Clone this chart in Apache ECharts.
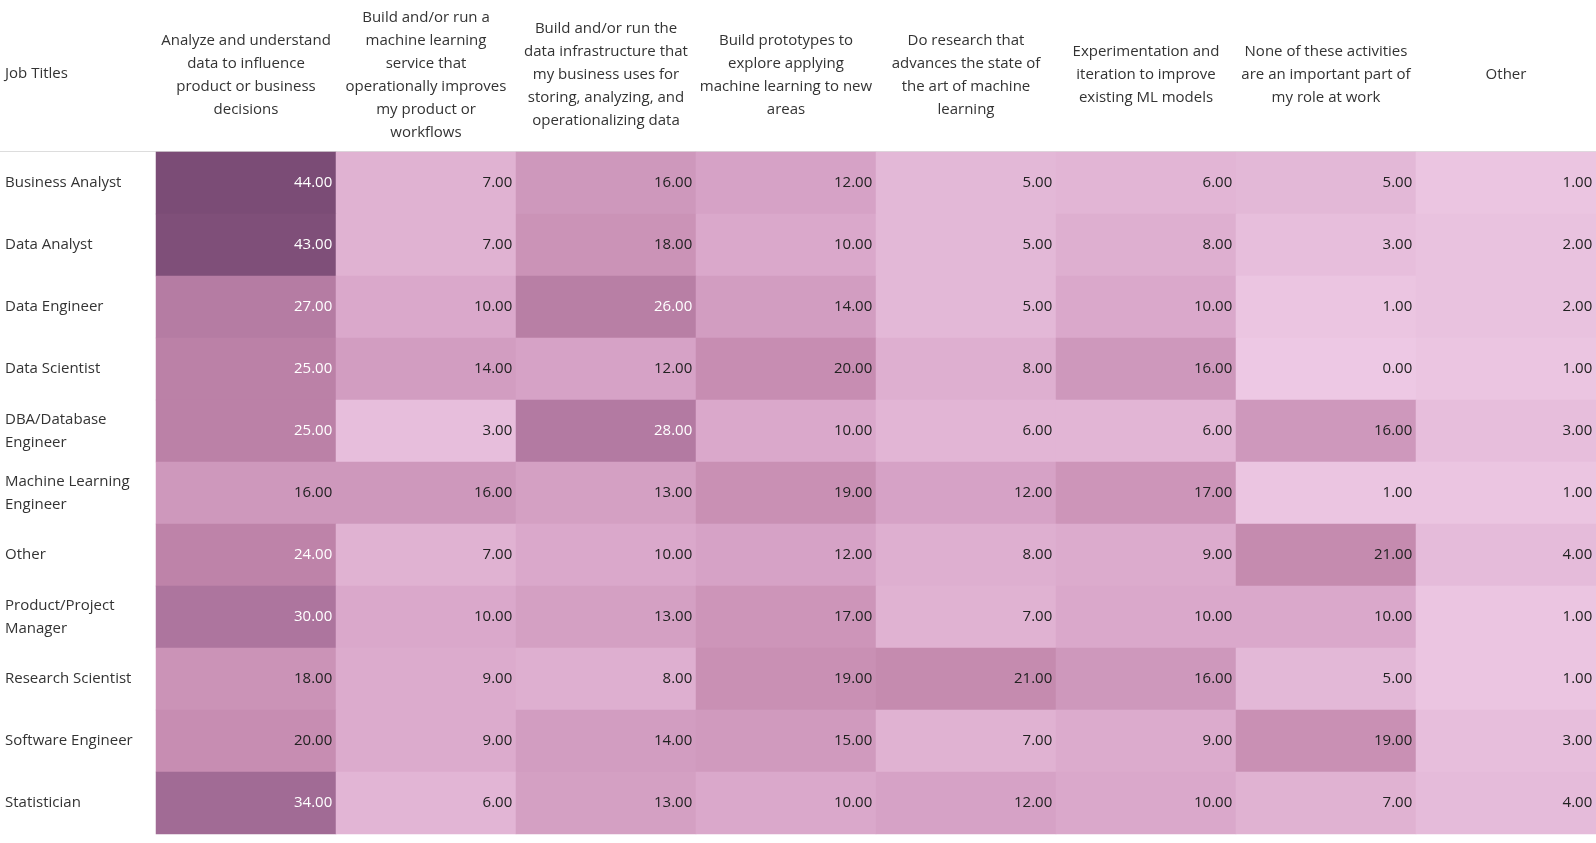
<!DOCTYPE html>
<html>
<head>
<meta charset="utf-8">
<script src="https://cdn.jsdelivr.net/npm/echarts@6/dist/echarts.min.js"></script>
<style>html,body{margin:0;padding:0;background:#fff;overflow:hidden}#chart{width:100%;height:843px}</style>
</head>
<body>
<div id="chart"></div>
<script>
var activities = [
  'Analyze and understand\ndata to influence\nproduct or business\ndecisions',
  'Build and/or run a\nmachine learning\nservice that\noperationally improves\nmy product or\nworkflows',
  'Build and/or run the\ndata infrastructure that\nmy business uses for\nstoring, analyzing, and\noperationalizing data',
  'Build prototypes to\nexplore applying\nmachine learning to new\nareas',
  'Do research that\nadvances the state of\nthe art of machine\nlearning',
  'Experimentation and\niteration to improve\nexisting ML models',
  'None of these activities\nare an important part of\nmy role at work',
  'Other'
];
var jobTitles = [
  'Business Analyst', 'Data Analyst', 'Data Engineer', 'Data Scientist',
  'DBA/Database\nEngineer', 'Machine Learning\nEngineer', 'Other',
  'Product/Project\nManager', 'Research Scientist', 'Software Engineer', 'Statistician'
];
var values = [
  [44, 7, 16, 12, 5, 6, 5, 1],
  [43, 7, 18, 10, 5, 8, 3, 2],
  [27, 10, 26, 14, 5, 10, 1, 2],
  [25, 14, 12, 20, 8, 16, 0, 1],
  [25, 3, 28, 10, 6, 6, 16, 3],
  [16, 16, 13, 19, 12, 17, 1, 1],
  [24, 7, 10, 12, 8, 9, 21, 4],
  [30, 10, 13, 17, 7, 10, 10, 1],
  [18, 9, 8, 19, 21, 16, 5, 1],
  [20, 9, 14, 15, 7, 9, 19, 3],
  [34, 6, 13, 10, 12, 10, 7, 4]
];

var data = [];
values.forEach(function (row, r) {
  row.forEach(function (v, c) {
    data.push({ value: [c, r, v], label: { color: v >= 24 ? '#fff' : '#222' } });
  });
});

var chart = echarts.init(document.getElementById('chart'));
chart.setOption({
  backgroundColor: '#fff',
  textStyle: { fontFamily: 'Open Sans' },
  graphic: [{
    type: 'text', left: 5, top: 66,
    style: { text: 'Job Titles', fontSize: 15, fill: '#333', fontFamily: 'Open Sans' }
  }, {
    type: 'rect', shape: { x: 0, y: 151, width: 2000, height: 1 },
    style: { fill: '#ddd' }
  }],
  grid: { left: 156, right: 0, top: 152, height: 682 },
  xAxis: {
    type: 'category', position: 'top', data: activities,
    axisLine: { show: false }, axisTick: { show: false },
    axisLabel: { color: '#333', fontSize: 15, lineHeight: 23, interval: 0, margin: 77, verticalAlign: 'middle' }
  },
  yAxis: {
    type: 'category', inverse: true, data: jobTitles,
    axisLine: { show: false }, axisTick: { show: false },
    axisLabel: { color: '#333', fontSize: 15, lineHeight: 23, align: 'left', margin: 151 }
  },
  visualMap: {
    show: false, min: 0, max: 44, dimension: 2,
    inRange: { color: ['#edc8e4', '#d8a5c8', '#c388ad', '#a56e98', '#7b4c76'] }
  },
  series: [{
    type: 'heatmap', data: data,
    label: {
      show: true, position: 'insideRight', distance: 4, fontSize: 15,
      formatter: function (p) { return p.value[2].toFixed(2); }
    }
  }]
});
</script>
</body>
</html>
